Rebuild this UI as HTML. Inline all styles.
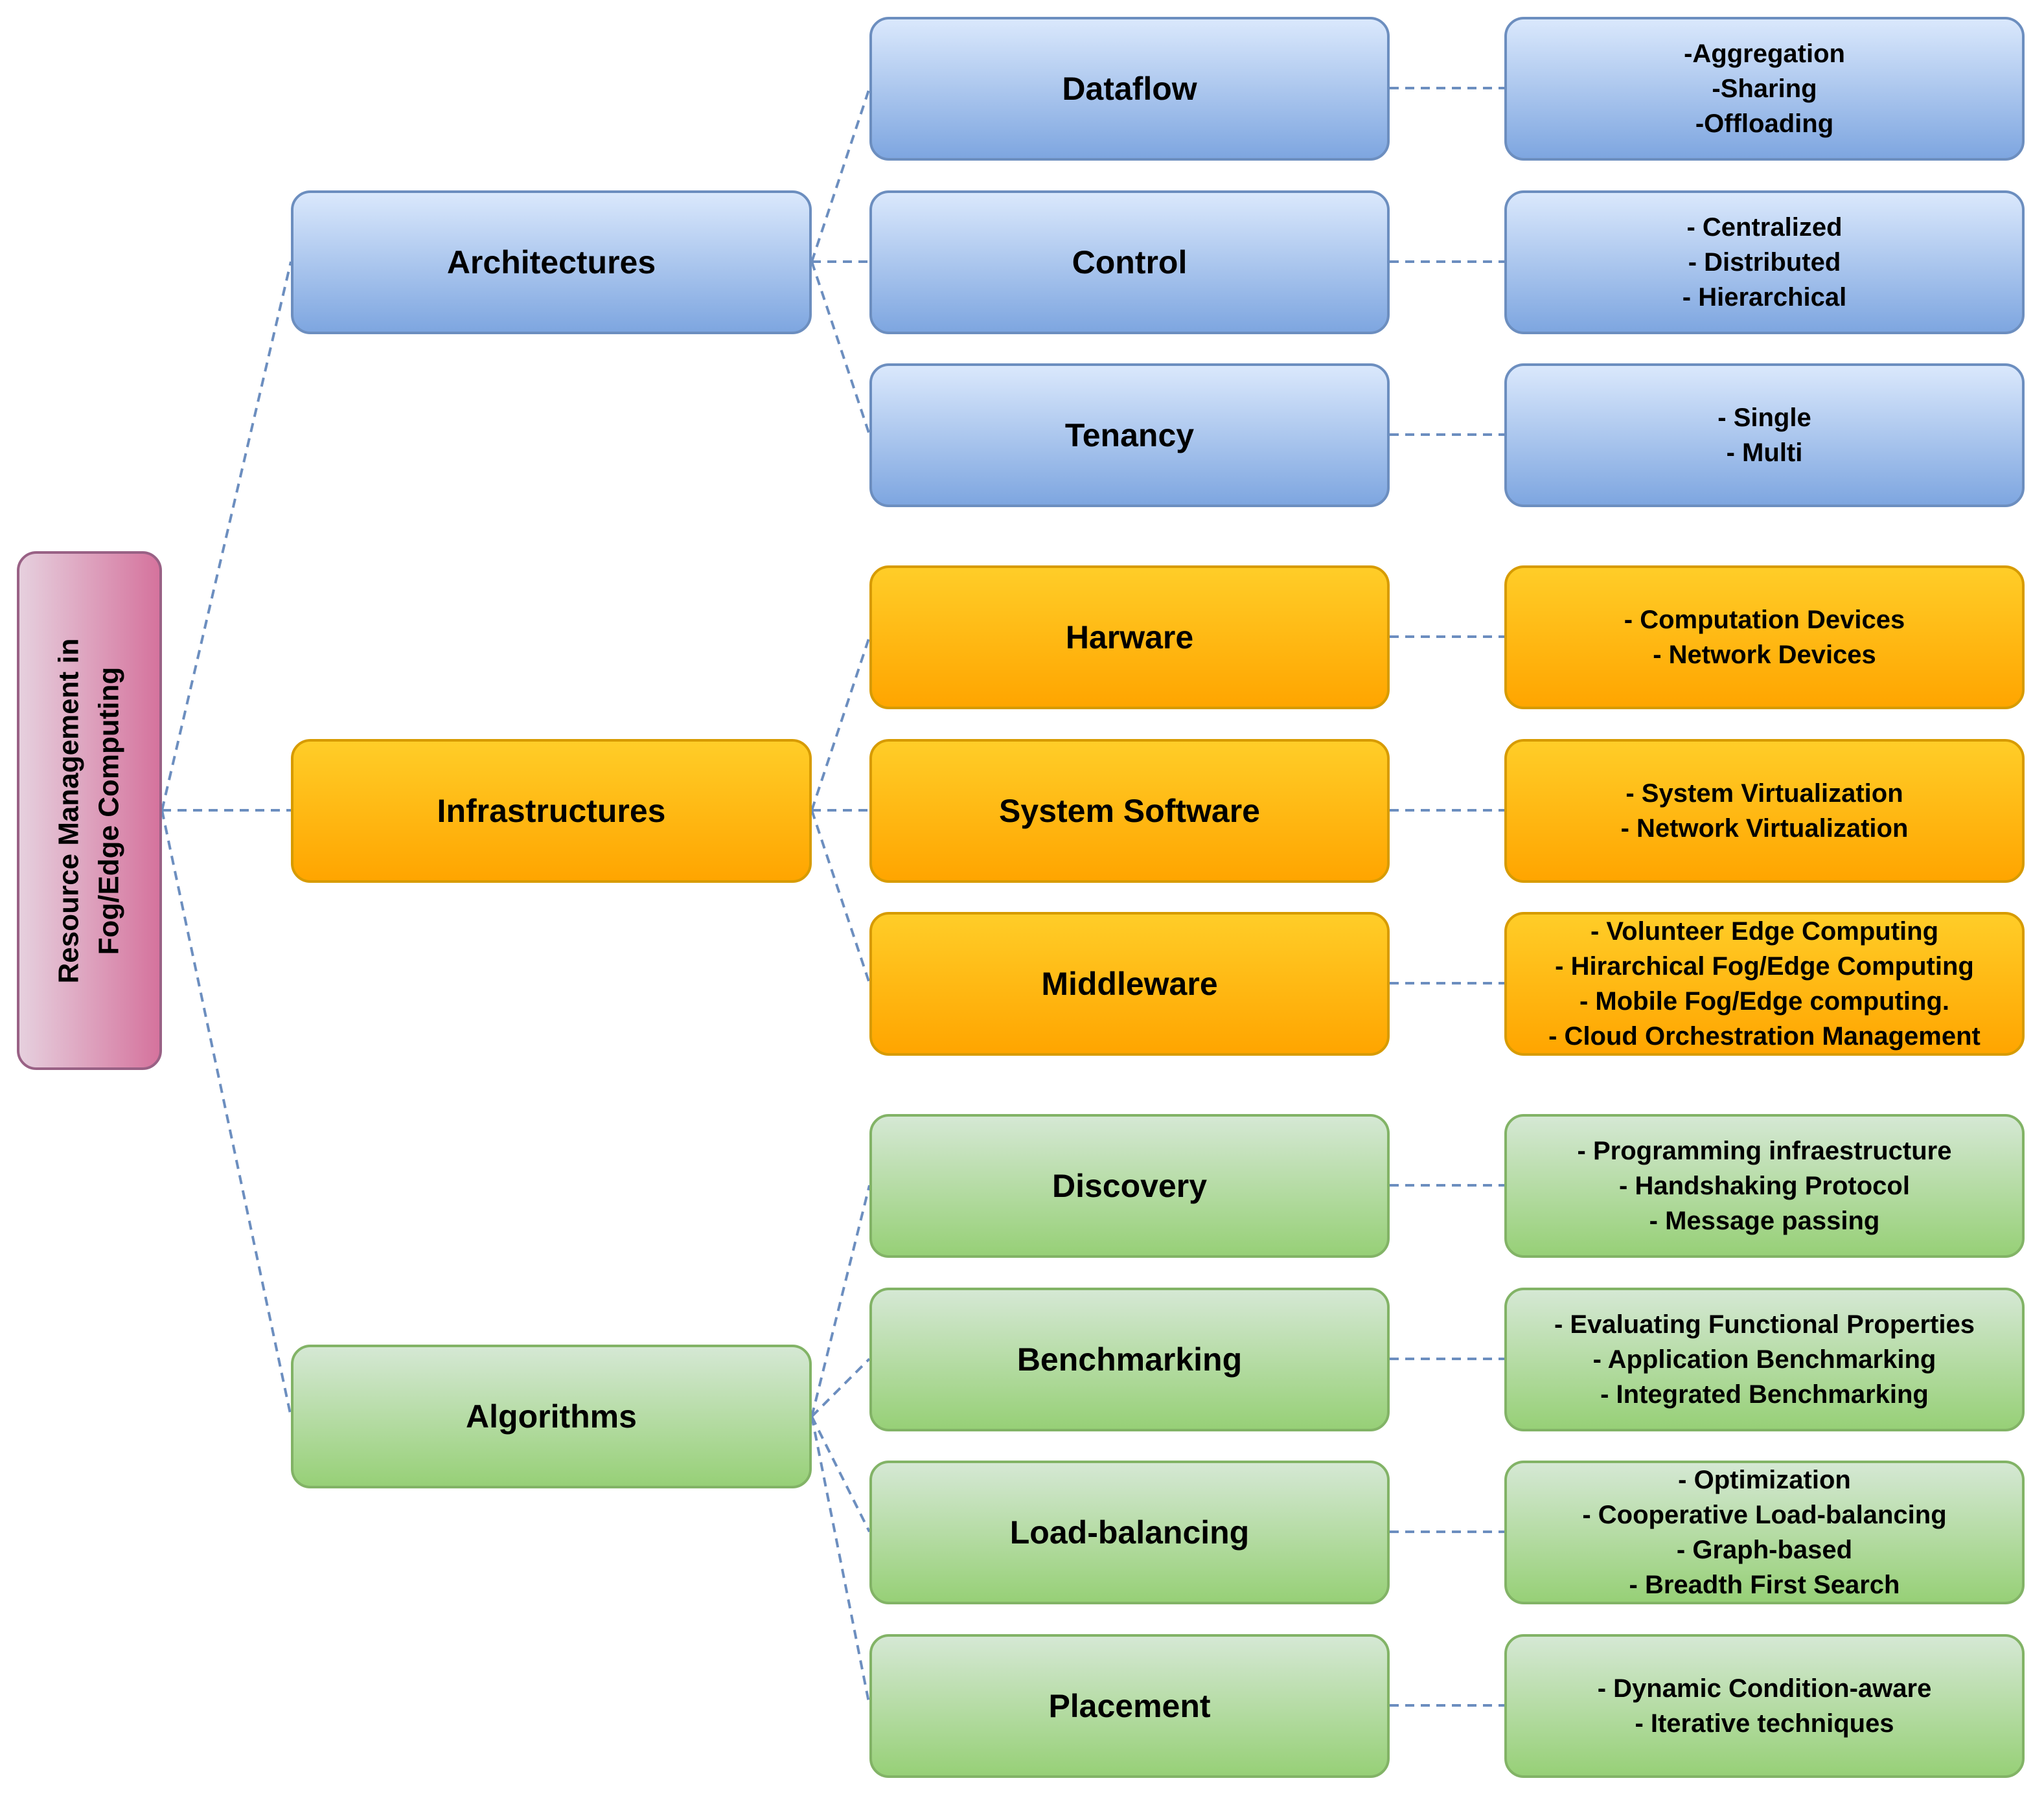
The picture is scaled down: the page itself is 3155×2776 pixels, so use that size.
<!DOCTYPE html>
<html><head><meta charset="utf-8"><style>
body{margin:0;width:3155px;height:2776px;background:#fff;position:relative;overflow:hidden;font-family:"Liberation Sans",Arial,sans-serif;font-weight:bold;color:#000}
.b{position:absolute;box-sizing:border-box;border:4px solid;border-radius:30px;display:flex;align-items:center;justify-content:center;text-align:center}
.l1{left:449px;width:804px;height:222px;font-size:50px}
.l2{left:1342px;width:803px;height:222px;font-size:50px}
.l3{left:2322px;width:803px;height:222px;font-size:40px;line-height:54px}
.bl{background:linear-gradient(#dae8fc,#7ea6e0);border-color:#6c8ebf}
.or{background:linear-gradient(#ffcd28,#ffa500);border-color:#d79b00}
.gr{background:linear-gradient(#d5e8d4,#97d077);border-color:#82b366}
svg{position:absolute;left:0;top:0}
</style></head><body>
<svg width="3155" height="2776"><g stroke="#6c8ebf" stroke-width="4" stroke-dasharray="14,10" fill="none">
<line x1="250" y1="1251" x2="449" y2="404"/><line x1="250" y1="1251" x2="449" y2="1251"/><line x1="250" y1="1251" x2="449" y2="2187"/>
<line x1="1253" y1="404" x2="1342" y2="136"/><line x1="1253" y1="404" x2="1342" y2="404"/><line x1="1253" y1="404" x2="1342" y2="671"/>
<line x1="1253" y1="1251" x2="1342" y2="983"/><line x1="1253" y1="1251" x2="1342" y2="1251"/><line x1="1253" y1="1251" x2="1342" y2="1518"/>
<line x1="1253" y1="2187" x2="1342" y2="1830"/><line x1="1253" y1="2187" x2="1342" y2="2098"/><line x1="1253" y1="2187" x2="1342" y2="2365"/><line x1="1253" y1="2187" x2="1342" y2="2633"/>
<line x1="2145" y1="136" x2="2322" y2="136"/><line x1="2145" y1="404" x2="2322" y2="404"/><line x1="2145" y1="671" x2="2322" y2="671"/>
<line x1="2145" y1="983" x2="2322" y2="983"/><line x1="2145" y1="1251" x2="2322" y2="1251"/><line x1="2145" y1="1518" x2="2322" y2="1518"/>
<line x1="2145" y1="1830" x2="2322" y2="1830"/><line x1="2145" y1="2098" x2="2322" y2="2098"/><line x1="2145" y1="2365" x2="2322" y2="2365"/><line x1="2145" y1="2633" x2="2322" y2="2633"/>
</g></svg>
<div class="b" style="left:26px;top:851px;width:224px;height:801px;background:linear-gradient(to right,#e6d0de,#d5739d);border-color:#996185"><div style="transform:rotate(-90deg);white-space:nowrap;font-size:44px;line-height:62px">Resource Management in<br>Fog/Edge Computing</div></div>
<div class="b l1 bl" style="top:294px">Architectures</div>
<div class="b l1 or" style="top:1141px">Infrastructures</div>
<div class="b l1 gr" style="top:2076px">Algorithms</div>
<div class="b l2 bl" style="top:26px">Dataflow</div>
<div class="b l2 bl" style="top:294px">Control</div>
<div class="b l2 bl" style="top:561px">Tenancy</div>
<div class="b l2 or" style="top:873px">Harware</div>
<div class="b l2 or" style="top:1141px">System Software</div>
<div class="b l2 or" style="top:1408px">Middleware</div>
<div class="b l2 gr" style="top:1720px">Discovery</div>
<div class="b l2 gr" style="top:1988px">Benchmarking</div>
<div class="b l2 gr" style="top:2255px">Load-balancing</div>
<div class="b l2 gr" style="top:2523px">Placement</div>
<div class="b l3 bl" style="top:26px">-Aggregation<br>-Sharing<br>-Offloading</div>
<div class="b l3 bl" style="top:294px">- Centralized<br>- Distributed<br>- Hierarchical</div>
<div class="b l3 bl" style="top:561px">- Single<br>- Multi</div>
<div class="b l3 or" style="top:873px">- Computation Devices<br>- Network Devices</div>
<div class="b l3 or" style="top:1141px">- System Virtualization<br>- Network Virtualization</div>
<div class="b l3 or" style="top:1408px">- Volunteer Edge Computing<br>- Hirarchical Fog/Edge Computing<br>- Mobile Fog/Edge computing.<br>- Cloud Orchestration Management</div>
<div class="b l3 gr" style="top:1720px">- Programming infraestructure<br>- Handshaking Protocol<br>- Message passing</div>
<div class="b l3 gr" style="top:1988px">- Evaluating Functional Properties<br>- Application Benchmarking<br>- Integrated Benchmarking</div>
<div class="b l3 gr" style="top:2255px">- Optimization<br>- Cooperative Load-balancing<br>- Graph-based<br>- Breadth First Search</div>
<div class="b l3 gr" style="top:2523px">- Dynamic Condition-aware<br>- Iterative techniques</div>
</body></html>
